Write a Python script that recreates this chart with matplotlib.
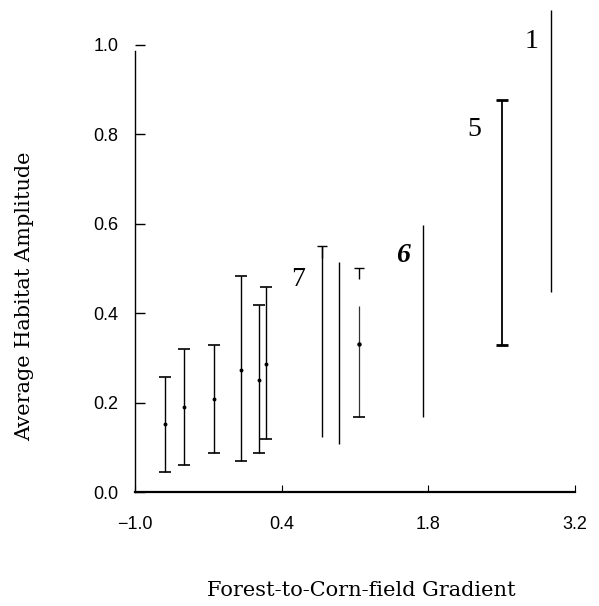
import matplotlib.pyplot as plt

# error bars with caps and a centre dot
bar_x = [-0.714, -0.532, -0.243, 0.015, 0.181, 0.250]
bar_mid = [0.152, 0.191, 0.208, 0.273, 0.251, 0.286]
bar_lo = [0.045, 0.060, 0.088, 0.070, 0.087, 0.119]
bar_hi = [0.258, 0.320, 0.329, 0.484, 0.418, 0.458]

# the bar right of 7: only a lower cap, top cap drawn apart
b9_x = [1.138]
b9_mid = [0.331]
b9_lo = [0.167]
b9_hi = [0.416]

# plain vertical ranges, no caps
line_x = [0.782, 0.950, 1.752, 2.968]
line_lo = [0.122, 0.107, 0.168, 0.447]
line_hi = [0.549, 0.515, 0.596, 1.078]

# small "T" caps sitting on top of a range
tcap_x = [0.782, 1.138]
tcap_y = [0.549, 0.501]

# group 5 range with heavy caps
g5_x = [2.500]
g5_lo = [0.329]
g5_hi = [0.877]

# group numbers
lab_text = ["1", "5", "6", "7"]
lab_x = [2.786, 2.239, 1.561, 0.559]
lab_y = [1.007, 0.811, 0.528, 0.476]

xticks = [-1.0, 0.4, 1.8, 3.2]
yticks = [0.0, 0.2, 0.4, 0.6, 0.8, 1.0]

fig = plt.figure(figsize=(5.99, 6.06), dpi=100)
ax = fig.add_axes([0.2254, 0.188, 0.752, 0.812])
ax.set_xlim(-1.0, 3.3)
ax.set_ylim(0, 1.1)

ax.vlines(bar_x, bar_lo, bar_hi, color="black", lw=1.0)
ax.plot(bar_x, bar_lo, "_", color="black", ms=8, mew=1.2)
ax.plot(bar_x, bar_hi, "_", color="black", ms=8, mew=1.2)
ax.plot(bar_x, bar_mid, "o", color="black", ms=1.8)

ax.vlines(b9_x, b9_lo, b9_hi, color="#333333", lw=0.9)
ax.plot(b9_x, b9_lo, "_", color="black", ms=8, mew=1.2)
ax.plot(b9_x, b9_mid, "o", color="black", ms=2.2)

ax.vlines(line_x, line_lo, line_hi, color="black", lw=1.0)

ax.vlines(tcap_x, [y - 0.025 for y in tcap_y], tcap_y, color="black", lw=1.0)
ax.plot(tcap_x, tcap_y, "_", color="black", ms=7, mew=1.0)

ax.vlines(g5_x, g5_lo, g5_hi, color="black", lw=1.3)
ax.plot(g5_x, g5_lo, "_", color="black", ms=9, mew=2.0)
ax.plot(g5_x, g5_hi, "_", color="black", ms=9, mew=2.0)

for t, x, y in zip(lab_text, lab_x, lab_y):
    style = "italic" if t == "6" else "normal"
    weight = "bold" if t == "6" else "normal"
    ax.text(x, y, t, fontsize=20, family="Liberation Serif",
            style=style, weight=weight, ha="center", va="center")

for s in ["top", "right"]:
    ax.spines[s].set_visible(False)
ax.spines["left"].set_bounds(0, 0.986)
ax.spines["left"].set_linewidth(1.0)
ax.spines["bottom"].set_bounds(-1.0, 3.2)
ax.spines["bottom"].set_linewidth(1.6)

ax.set_xticks(xticks)
ax.set_xticklabels(["\u22121.0", "0.4", "1.8", "3.2"])
ax.set_yticks(yticks)
ax.set_yticklabels([f"{v:.1f}" for v in yticks])
ax.tick_params(axis="y", direction="in", length=7, width=1.0, pad=12,
               labelsize=13)
ax.tick_params(axis="x", direction="in", length=5, width=0.8, pad=17,
               labelsize=13)
for lab in ax.get_xticklabels() + ax.get_yticklabels():
    lab.set_family("Liberation Sans")

fig.text(0.604, 1 - 590 / 606, "Forest-to-Corn-field Gradient",
         family="DejaVu Serif", fontsize=15, ha="center", va="center")
fig.text(25 / 599, 1 - 296 / 606, "Average Habitat Amplitude",
         family="DejaVu Serif", fontsize=15, rotation=90,
         ha="center", va="center")

fig.savefig("out.png", dpi=100)
